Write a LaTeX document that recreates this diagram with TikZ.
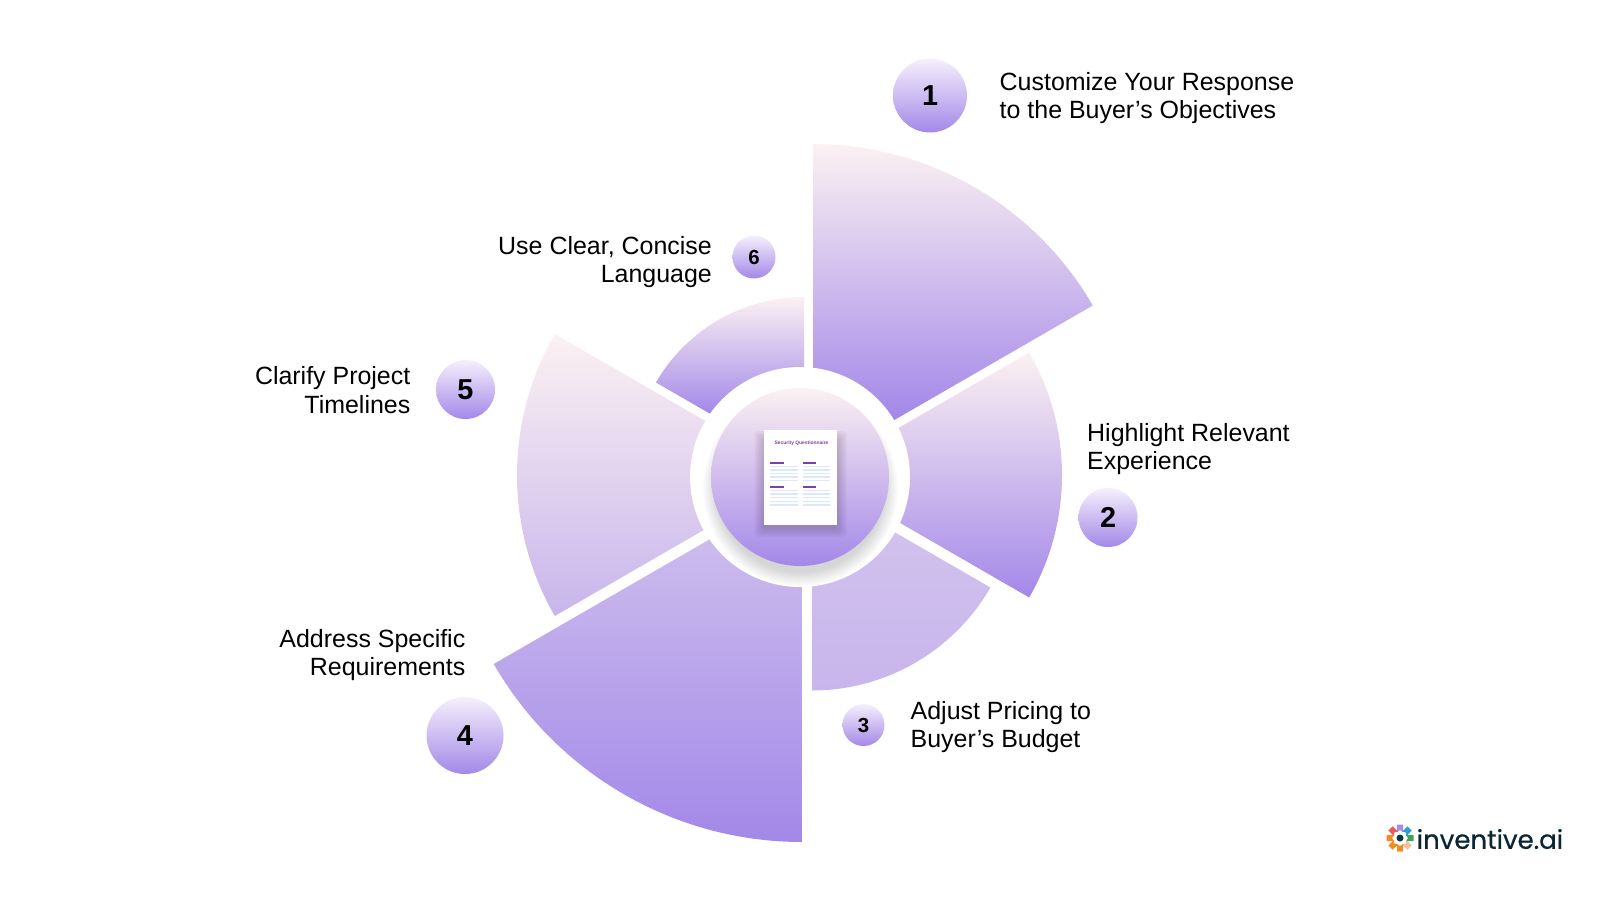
\documentclass[tikz,border=0pt]{standalone}
\usepackage{fontspec}
\setmainfont{Liberation Sans}
\newfontfamily\logofont[FakeBold=.6]{Poppins}
\usetikzlibrary{shadows,positioning}
\definecolor{palepink}{HTML}{FCF1F2}
\definecolor{midlilac}{HTML}{D3C5EE}
\definecolor{deeplilac}{HTML}{C8B5EC}
\definecolor{strongpurple}{HTML}{A388E8}
\definecolor{apexpurple}{HTML}{9375E6}
\definecolor{smallapex}{HTML}{7957E3}
\definecolor{badgetop}{HTML}{F5F0FC}
\definecolor{sheetline}{HTML}{DCE8FC}
\definecolor{sheethead}{HTML}{7A3FA8}
\definecolor{logotext}{HTML}{0B2533}
\tikzset{
  badgebig/.style={circle,inner sep=0pt,top color=badgetop,bottom color=strongpurple,font=\fontsize{8.2}{9}\selectfont\bfseries},
  badgesmall/.style={badgebig,font=\fontsize{5.8}{7}\selectfont\bfseries},
  textright/.style={right,align=left,font=\fontsize{7.1}{8.15}\selectfont},
  textleft/.style={left,align=right,font=\fontsize{7.1}{8.15}\selectfont},
  sheetrule/.style={sheetline,line width=.013cm},
  sheettitle/.style={sheethead,line width=.018cm}
}
\begin{document}
\begin{tikzpicture}
  \useasboundingbox (0,0) rectangle (16,9);
  % petals
  \foreach \apexAt/\startAng/\endAng/\petalR/\topTone/\botTone in {
    {8.13,4.33}/90/30/3.23/palepink/apexpurple,
    {8.17,4.25}/30/-30/2.45/palepink/strongpurple,
    {8.12,4.155}/-30/-90/2.06/midlilac/deeplilac,
    {8.02,4.14}/-90/-150/3.56/midlilac/strongpurple,
    {7.99,4.25}/-150/-210/2.82/palepink/deeplilac,
    {8.04,4.32}/150/90/1.71/palepink/smallapex}
    \shade[top color=\topTone,bottom color=\botTone] (\apexAt) -- ++(\startAng:\petalR)
      arc[start angle=\startAng,end angle=\endAng,radius=\petalR] -- cycle;
  % hub
  \node (ring) [circle,fill=white,minimum size=2.2cm] at (8,4.23) {};
  \node (hub) [circle,minimum size=1.78cm,top color=palepink,bottom color=strongpurple,
    circular drop shadow={shadow xshift=0cm,shadow yshift=-.1cm,shadow scale=1.1,opacity=.16,fill=black}] at (8,4.23) {};
  % sheet
  \foreach \grow in {.01,.03,.05,.07,.09}
    \fill[black,opacity=.035,rounded corners=.04cm] (7.635-\grow,3.72-\grow) rectangle (8.375+\grow,4.60+\grow);
  \node (sheet) [fill=white,minimum width=.73cm,minimum height=.95cm,inner sep=0pt] at (8.005,4.225) {};
  \node (sheetname) [inner sep=0pt,text=sheethead,font=\fontsize{1.4}{1.6}\selectfont\bfseries] at (8.015,4.57) {Security Questionnaire};
  \foreach \x in {7.703,8.027} {
    \foreach \y in {4.373,4.133}
      \draw[sheettitle] (\x,\y) -- ++(.137,0);
    \foreach \y in {4.333,4.300,4.267,4.230,4.193,4.093,4.060,4.023,3.987,3.950}
      \draw[sheetrule] (\x,\y) -- ++(.277,0);
  }
  % numbers
  \node (one) [badgebig,minimum size=.74cm] at (9.30,8.045) {1};
  \node (two) [badgebig,minimum size=.59cm] at (11.08,3.825) {2};
  \node (three) [badgesmall,minimum size=.42cm] at (8.635,1.75) {3};
  \node (four) [badgebig,minimum size=.77cm] at (4.65,1.645) {4};
  \node (five) [badgebig,minimum size=.59cm] at (4.655,5.105) {5};
  \node (six) [badgesmall,minimum size=.43cm] at (7.54,6.43) {6};
  % labels
  \node (oneText) [textright,inner sep=0pt] at (9.99,8.02) {Customize Your Response\\to the Buyer’s Objectives};
  \node (twoText) [textright,inner sep=0pt] at (10.865,4.51) {Highlight Relevant\\Experience};
  \node (threeText) [textright,inner sep=0pt] at (9.10,1.73) {Adjust Pricing to\\Buyer’s Budget};
  \node (fourText) [textleft,inner sep=0pt] at (4.66,2.45) {Address Specific\\Requirements};
  \node (fiveText) [textleft,inner sep=0pt] at (4.11,5.10) {Clarify Project\\Timelines};
  \node (sixText) [textleft,inner sep=0pt] at (7.125,6.38) {Use Clear, Concise\\Language};
  % logo
  \foreach \ang/\tone in {90/A78BE8,45/2F9BD8,0/3FA35C,-45/F2C09A,-90/F58A1F,-135/F58A1F,180/F58A1F,135/EE5A5A} {
    \definecolor{petalcolor}{HTML}{\tone}
    \fill[petalcolor,rotate around={\ang:(14,.62)}] (14.06,.59) -- (14.135,.59) -- (14.135,.65) -- (14.06,.65) -- (14.08,.62) -- cycle;
  }
  \fill[logotext!80!teal] (14,.62) circle (.035);
  \node (logo) [right,inner sep=0pt,text=logotext,font=\logofont\fontsize{7.4}{8}\selectfont] at (14.16,.61) {inventive.ai};
\end{tikzpicture}
\end{document}
